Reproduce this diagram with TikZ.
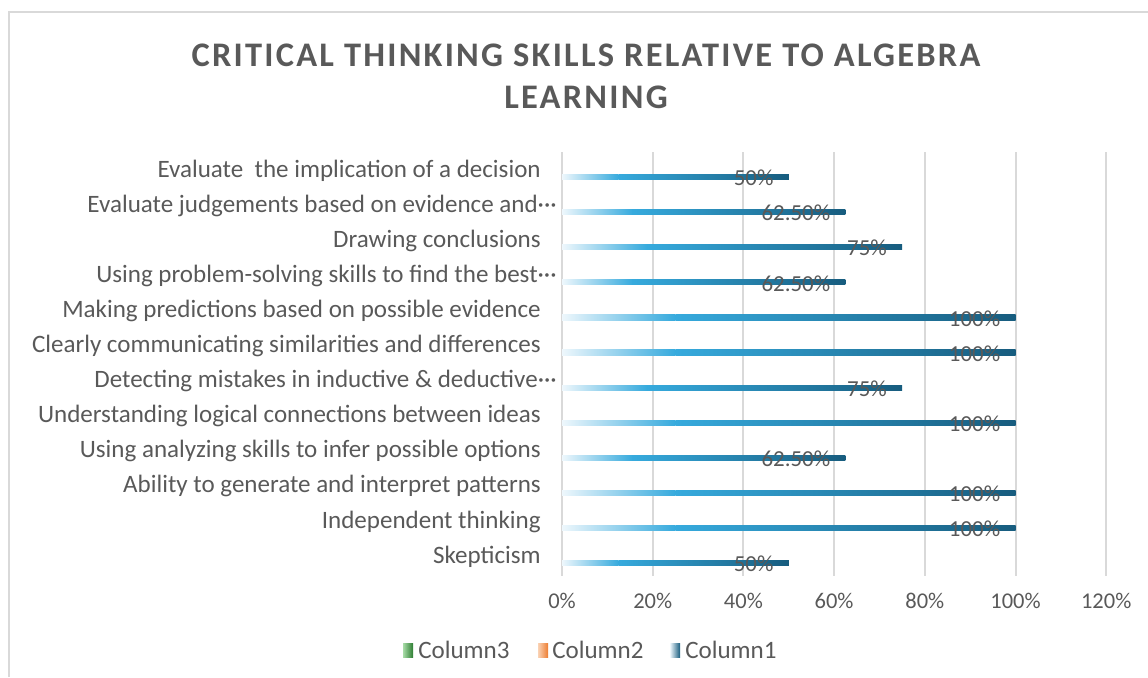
\documentclass[tikz,border=0pt]{standalone}
\usepackage{fontspec}
\setmainfont{Carlito}
\usetikzlibrary{positioning, math}
\definecolor{txtgray}{HTML}{595959}
\definecolor{gridgray}{HTML}{D9D9D9}
\definecolor{barlight}{HTML}{EEF7FC}
\definecolor{barbright}{HTML}{36AADD}
\definecolor{bardark}{HTML}{175C7E}
\definecolor{greenlight}{HTML}{A8DCA8}
\definecolor{greendark}{HTML}{2E7D32}
\definecolor{orangelight}{HTML}{FAD2B4}
\definecolor{orangedark}{HTML}{ED7D31}
\tikzset{
skill/.style={anchor=base east, inner sep=0pt, text=txtgray, font=\fontsize{17.8}{20}\selectfont},
value/.style={anchor=east, inner sep=0pt, text=txtgray, font=\fontsize{16.3}{18}\selectfont},
tick/.style={inner sep=0pt, text=txtgray, font=\fontsize{16}{18}\selectfont},
legend/.style={anchor=west, inner sep=0pt, text=txtgray, font=\fontsize{17.8}{20}\selectfont},
title/.style={inner sep=0pt, text=txtgray, font=\fontsize{24.5}{28}\selectfont\bfseries\addfontfeature{LetterSpace=6.5}},
grid line/.style={draw=gridgray, line width=1.4pt},
frame/.style={draw=gridgray, line width=1.4pt},
}
% bar with gradient: name, y, percent, printed value
\newcommand{\skillbar}[4]{%
    \shade[left color=barlight, right color=barbright]
        (\zero,#2-\half) rectangle ({\zero+0.25*#3*\unit},#2+\half);
    \shade[left color=barbright, right color=bardark]
        ({\zero+0.25*#3*\unit},#2-\half) rectangle ({\zero+#3*\unit},#2+\half);
    \node[value] (#1) at ({\zero+#3*\unit-15},#2+1) {#4};
}

\begin{document}
\begin{tikzpicture}[x=0.025cm, y=-0.025cm]
    \tikzmath{ \zero=562; \unit=4.535; \half=2.6; };  % 0% line, px per percent, half bar height

    \useasboundingbox (0,0) rectangle (1148,677);
    \draw[frame] (9,677) -- (9,12) -- (1148,12);

    %title
    \node[title] (title1) at (586,55) {CRITICAL THINKING SKILLS RELATIVE TO ALGEBRA};
    \node[title] (title2) at (586,97) {LEARNING};

    % vertical grid lines and axis labels
    \foreach \p in {0,20,...,120} {
        \draw[grid line] ({\zero+\p*\unit},152) -- ({\zero+\p*\unit},576);
        \node[tick] (t\p) at ({\zero+\p*\unit},601) {\p\%};
    }

    %skill names
    \node[skill] (s1)  at (541,177)   {Evaluate\ \ the implication of a decision};
    \node[skill] (s2)  at (557,212.1) {Evaluate judgements based on evidence and···};
    \node[skill] (s3)  at (541,247.2) {Drawing conclusions};
    \node[skill] (s4)  at (557,282.3) {Using problem-solving skills to find the best···};
    \node[skill] (s5)  at (541,317.4) {Making predictions based on possible evidence};
    \node[skill] (s6)  at (541,352.5) {Clearly communicating similarities and differences};
    \node[skill] (s7)  at (557,387.6) {Detecting mistakes in inductive \& deductive···};
    \node[skill] (s8)  at (541,422.7) {Understanding logical connections between ideas};
    \node[skill] (s9)  at (541,457.8) {Using analyzing skills to infer possible options};
    \node[skill] (s10) at (541,492.9) {Ability to generate and interpret patterns};
    \node[skill] (s11) at (541,528)   {Independent thinking};
    \node[skill] (s12) at (541,563.1) {Skepticism};

    %bars
    \skillbar{v1}{177}{50}{50\%}
    \skillbar{v2}{212.1}{62.5}{62.50\%}
    \skillbar{v3}{247.2}{75}{75\%}
    \skillbar{v4}{282.3}{62.5}{62.50\%}
    \skillbar{v5}{317.4}{100}{100\%}
    \skillbar{v6}{352.5}{100}{100\%}
    \skillbar{v7}{387.6}{75}{75\%}
    \skillbar{v8}{422.7}{100}{100\%}
    \skillbar{v9}{457.8}{62.5}{62.50\%}
    \skillbar{v10}{492.9}{100}{100\%}
    \skillbar{v11}{528}{100}{100\%}
    \skillbar{v12}{563.1}{50}{50\%}

    %legend
    \shade[left color=greenlight, right color=greendark] (403,643) rectangle (413,657);
    \node[legend] (col3) at (418,650) {Column3};
    \shade[left color=orangelight, right color=orangedark] (538,643) rectangle (548,657);
    \node[legend] (col2) at (552,650) {Column2};
    \shade[left color=barlight, right color=bardark] (670,643) rectangle (680,657);
    \node[legend] (col1) at (685,650) {Column1};

\end{tikzpicture}
\end{document}
